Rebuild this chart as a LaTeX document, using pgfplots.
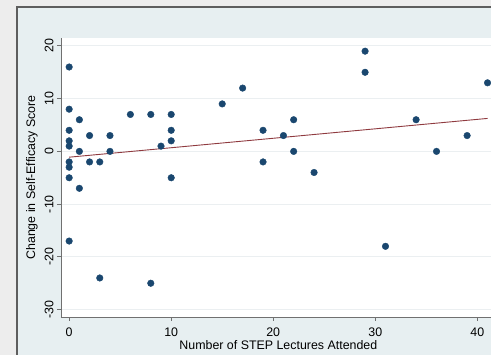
\documentclass[border=0pt]{standalone}
\usepackage{pgfplots}
\pgfplotsset{compat=1.18}
\usepackage{fontspec}
\setmainfont{Liberation Sans}
\definecolor{outergrey}{HTML}{EDEDED}
\definecolor{graphblue}{HTML}{E7EFF1}
\definecolor{framegrey}{HTML}{5E5E5E}
\definecolor{axisgrey}{HTML}{707070}
\definecolor{gridgrey}{HTML}{EBEFF1}
\definecolor{stnavy}{HTML}{1A476F}
\definecolor{stmaroon}{HTML}{8F3A3F}
\newcommand{\chfont}{\fontsize{12.4}{14.5}\selectfont}
\begin{document}
\begin{tikzpicture}[x=1pt,y=1pt]
\path[use as bounding box] (0,0) rectangle (491,355);
\clip (0,0) rectangle (491,355);
\fill[outergrey] (0,0) rectangle (491,355);
\fill[graphblue] (16.5,-10) rectangle (520,348);
\draw[framegrey, line width=2pt] (16.5,-10) -- (16.5,348) -- (520,348);
\begin{axis}[
  at={(61pt,38pt)}, anchor=south west,
  scale only axis, width=434.7pt, height=279pt,
  xmin=-0.8, xmax=41.8, ymin=-31.4, ymax=21.5,
  axis x line*=bottom, axis y line*=left,
  axis line style={-, draw=axisgrey, line width=0.8pt},
  axis background/.style={fill=white},
  xtick={0,10,20,30,40}, xticklabels={0,10,20,30,40},
  ytick={-30,-20,-10,0,10,20}, yticklabels={-30,-20,-10,0,10,20},
  tick align=outside, major tick length=4pt,
  tick style={draw=axisgrey, line width=0.8pt},
  ymajorgrids, grid style={draw=gridgrey, line width=0.8pt},
  ticklabel style={font=\chfont},
  xticklabel style={yshift=-3pt},
  yticklabel style={rotate=90, anchor=south},
  label style={font=\chfont},
  xlabel style={yshift=3pt},
  xlabel={Number of STEP Lectures Attended},
  ylabel={Change in Self-Efficacy Score},
]
\addplot[only marks, mark=*, mark size=3.3pt, color=stnavy] coordinates {
(0,16) (0,8) (0,4) (0,2) (0,1) (0,-2) (0,-3) (0,-5) (0,-17)
(1,6) (1,0) (1,-7)
(2,3) (2,-2)
(3,-2) (3,-24)
(4,3) (4,0)
(6,7)
(8,7) (8,-25)
(9,1)
(10,7) (10,4) (10,2) (10,-5)
(15,9)
(17,12)
(19,4) (19,-2)
(21,3)
(22,6) (22,0)
(24,-4)
(29,19) (29,15)
(31,-18)
(34,6)
(36,0)
(39,3)
(41,13)
};
\addplot[color=stmaroon, line width=0.9pt] coordinates {(0,-1.1) (41,6.25)};
\end{axis}
\end{tikzpicture}
\end{document}
